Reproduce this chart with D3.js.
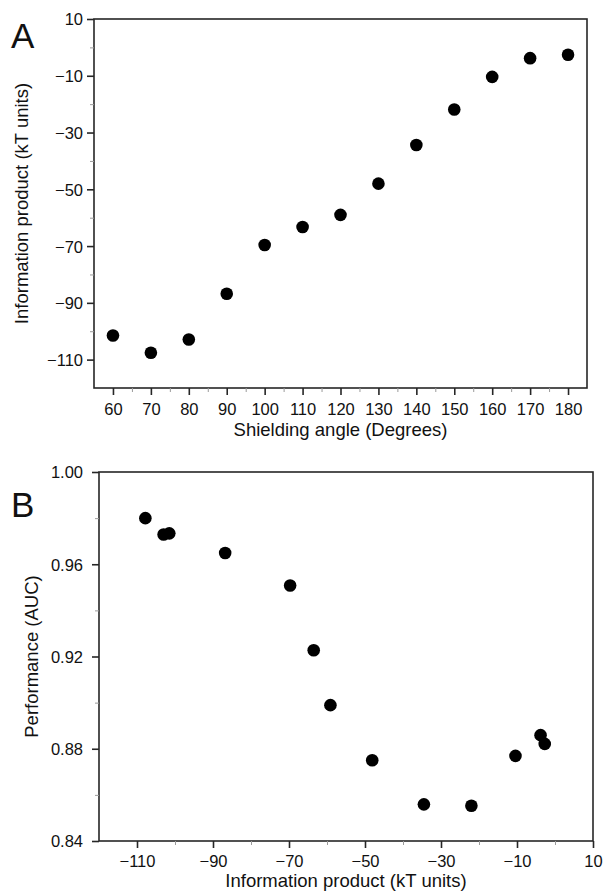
<!DOCTYPE html>
<html>
<head>
<meta charset="utf-8">
<script src="https://cdn.jsdelivr.net/npm/d3@7"></script>
<style>
  html, body { margin: 0; padding: 0; background: #fff; }
  svg { display: block; font-family: "Liberation Sans", Arial, Helvetica, sans-serif; }
</style>
</head>
<body>
<script>
// ---- Data ----
const shieldingAngles = [60, 70, 80, 90, 100, 110, 120, 130, 140, 150, 160, 170, 180];
const infoProduct = [-101.5, -107.6, -102.9, -86.8, -69.6, -63.3, -59.0, -48.0, -34.4, -21.9, -10.4, -3.8, -2.6];
const aucPerformance = [0.9734, 0.9800, 0.9729, 0.9649, 0.9508, 0.9227, 0.8989, 0.8750, 0.8559, 0.8553, 0.8769, 0.8859, 0.8821];
// panel B x-values are the information products; order matches aucPerformance
const infoProductB = [-101.5, -107.8, -103.0, -86.8, -69.7, -63.5, -59.1, -48.1, -34.5, -22.0, -10.4, -3.8, -2.7];

const xTicksA = [60, 70, 80, 90, 100, 110, 120, 130, 140, 150, 160, 170, 180];
const xMinorA = [65, 75, 85, 95, 105, 115, 125, 135, 145, 155, 165, 175];
const yTicksA = [10, -10, -30, -50, -70, -90, -110];
const yMinorA = [0, -20, -40, -60, -80, -100];
const xTicksB = [-110, -90, -70, -50, -30, -10, 10];
const xMinorB = [-100, -80, -60, -40, -20, 0];
const yTicksB = [0.84, 0.88, 0.92, 0.96, 1.00];
const yMinorB = [0.86, 0.90, 0.94, 0.98];

const W = 603, H = 891;
const svg = d3.select("body").append("svg").attr("width", W).attr("height", H);

const axisColor = "#262626";
const minorColor = "#9a9a9a";
const textColor = "#111";
const tickFont = 16.5;

function drawPanel(cfg) {
  const g = svg.append("g");
  const x = cfg.x, y = cfg.y;
  const [x0, x1] = x.range();
  const [yb, yt] = y.range();

  // frame
  g.append("rect")
    .attr("x", x0).attr("y", yt)
    .attr("width", x1 - x0).attr("height", yb - yt)
    .attr("fill", "none").attr("stroke", axisColor).attr("stroke-width", 1.6);

  // minor ticks
  g.append("g").attr("transform", `translate(0,${yb})`)
    .call(d3.axisBottom(x).tickValues(cfg.xMinor).tickSize(4).tickFormat(""))
    .call(s => s.select(".domain").remove())
    .call(s => s.selectAll("line").attr("stroke", minorColor).attr("stroke-width", 1));
  g.append("g").attr("transform", `translate(${x0},0)`)
    .call(d3.axisLeft(y).tickValues(cfg.yMinor).tickSize(4).tickFormat(""))
    .call(s => s.select(".domain").remove())
    .call(s => s.selectAll("line").attr("stroke", minorColor).attr("stroke-width", 1));

  // major x axis
  g.append("g").attr("transform", `translate(0,${yb})`)
    .call(d3.axisBottom(x).tickValues(cfg.xTicks).tickSize(7).tickFormat(cfg.xFmt))
    .call(s => s.select(".domain").remove())
    .call(s => s.selectAll("line").attr("stroke", axisColor).attr("stroke-width", 1.6))
    .call(s => s.selectAll("text")
      .attr("y", cfg.xLabelDy).attr("dy", null)
      .attr("font-size", tickFont).attr("fill", textColor)
      .attr("font-family", '"Liberation Sans", Arial, sans-serif'));

  // major y axis
  g.append("g").attr("transform", `translate(${x0},0)`)
    .call(d3.axisLeft(y).tickValues(cfg.yTicks).tickSize(7).tickPadding(cfg.yPad).tickFormat(cfg.yFmt))
    .call(s => s.select(".domain").remove())
    .call(s => s.selectAll("line").attr("stroke", axisColor).attr("stroke-width", 1.6))
    .call(s => s.selectAll("text")
      .attr("dy", "0.36em")
      .attr("font-size", tickFont).attr("fill", textColor)
      .attr("font-family", '"Liberation Sans", Arial, sans-serif'));

  // points
  g.append("g").selectAll("circle")
    .data(cfg.xs.map((d, i) => [d, cfg.ys[i]]))
    .join("circle")
    .attr("cx", d => x(d[0])).attr("cy", d => y(d[1]))
    .attr("r", 6.3).attr("fill", "#000");

  // axis titles
  g.append("text")
    .attr("x", (x0 + x1) / 2).attr("y", cfg.xTitleY)
    .attr("text-anchor", "middle").attr("font-size", cfg.titleFont).attr("fill", textColor)
    .text(cfg.xTitle);
  g.append("text")
    .attr("transform", `translate(${cfg.yTitleX},${(yb + yt) / 2}) rotate(-90)`)
    .attr("text-anchor", "middle").attr("font-size", cfg.titleFont).attr("fill", textColor)
    .text(cfg.yTitle);

  // panel letter
  g.append("text")
    .attr("x", cfg.letterX).attr("y", cfg.letterY)
    .attr("font-size", 35).attr("fill", "#111")
    .text(cfg.letter);
}

const minusFmt = d3.format("d");

drawPanel({
  x: d3.scaleLinear().domain([55, 185]).range([94, 587]),
  y: d3.scaleLinear().domain([-120, 10]).range([388, 19]),
  xs: shieldingAngles, ys: infoProduct,
  xTicks: xTicksA, xMinor: xMinorA, yTicks: yTicksA, yMinor: yMinorA,
  xFmt: minusFmt, yFmt: minusFmt,
  xLabelDy: 27, yPad: 4, titleFont: 18.5,
  xTitle: "Shielding angle (Degrees)", xTitleY: 436,
  yTitle: "Information product (kT units)", yTitleX: 28,
  letter: "A", letterX: 11, letterY: 48
});

drawPanel({
  x: d3.scaleLinear().domain([-120, 10]).range([99, 593]),
  y: d3.scaleLinear().domain([0.84, 1.00]).range([841, 472]),
  xs: infoProductB, ys: aucPerformance,
  xTicks: xTicksB, xMinor: xMinorB, yTicks: yTicksB, yMinor: yMinorB,
  xFmt: minusFmt, yFmt: d3.format(".2f"),
  xLabelDy: 26, yPad: 9, titleFont: 18.5,
  xTitle: "Information product (kT units)", xTitleY: 887,
  yTitle: "Performance (AUC)", yTitleX: 38,
  letter: "B", letterX: 11, letterY: 517
});
</script>
</body>
</html>
